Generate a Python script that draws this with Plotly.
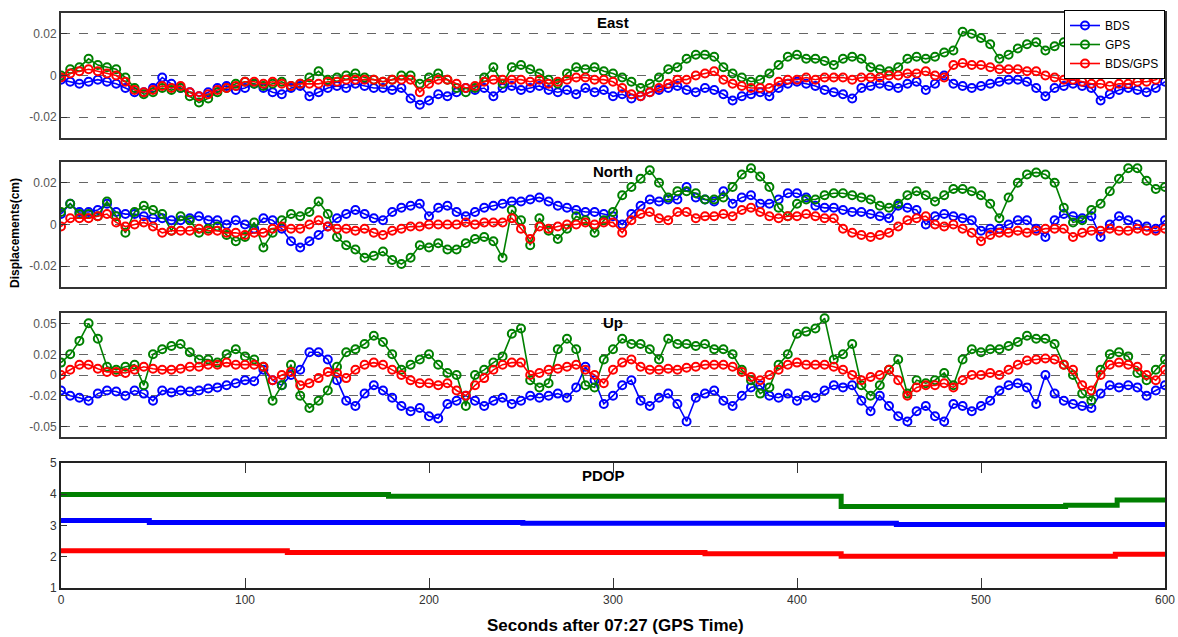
import plotly.graph_objects as go

# ---------------- data ----------------
t = list(range(0, 601, 5))

east_bds = [-0.002,-0.003,-0.004,-0.003,-0.002,-0.003,-0.004,-0.006,-0.008,-0.008,-0.006,-0.001,-0.004,-0.006,-0.008,-0.010,-0.008,-0.006,-0.005,-0.007,
            -0.006,-0.004,-0.006,-0.008,-0.009,-0.006,-0.005,-0.010,-0.008,-0.006,-0.005,-0.006,-0.004,-0.005,-0.006,-0.006,-0.007,-0.006,-0.011,-0.014,
            -0.012,-0.009,-0.010,-0.008,-0.006,-0.007,-0.006,-0.010,-0.006,-0.005,-0.007,-0.006,-0.005,-0.007,-0.008,-0.007,-0.009,-0.006,-0.008,-0.007,
            -0.010,-0.009,-0.011,-0.010,-0.008,-0.007,-0.006,-0.005,-0.007,-0.008,-0.006,-0.007,-0.009,-0.012,-0.010,-0.009,-0.008,-0.010,-0.006,-0.004,
            -0.003,-0.004,-0.005,-0.007,-0.008,-0.009,-0.011,-0.006,-0.005,-0.004,-0.005,-0.006,-0.004,-0.003,-0.007,-0.004,0.000,-0.004,-0.005,-0.006,
            -0.005,-0.004,-0.003,-0.002,-0.002,-0.003,-0.006,-0.010,-0.006,-0.005,-0.004,-0.005,-0.006,-0.012,-0.009,-0.007,-0.006,-0.007,-0.008,-0.006,
            -0.003]
east_gps = [0.000,0.003,0.004,0.008,0.005,0.004,0.003,-0.001,-0.006,-0.009,-0.008,-0.006,-0.007,-0.006,-0.010,-0.013,-0.011,-0.008,-0.006,-0.004,
            -0.003,-0.004,-0.005,-0.004,-0.003,-0.005,-0.004,-0.001,0.002,-0.002,-0.001,0.000,0.001,-0.001,-0.002,-0.003,-0.002,0.000,0.000,-0.004,
            -0.001,0.001,-0.002,-0.006,-0.008,-0.006,-0.001,0.004,-0.004,0.004,0.005,0.003,0.001,-0.002,-0.004,0.001,0.004,0.003,0.004,0.002,
            0.001,-0.001,-0.003,-0.006,-0.004,-0.001,0.003,0.004,0.008,0.010,0.010,0.009,0.004,0.001,-0.001,-0.003,-0.002,0.001,0.005,0.009,
            0.010,0.008,0.008,0.007,0.005,0.008,0.009,0.008,0.004,0.003,0.002,0.004,0.008,0.009,0.008,0.009,0.011,0.012,0.021,0.020,
            0.018,0.015,0.008,0.010,0.013,0.015,0.016,0.012,0.014,0.016,0.015,0.013,0.011,0.010,0.011,0.009,0.010,0.012,0.011,0.013,
            0.012]
east_mix = [-0.001,0.001,0.002,0.003,0.002,0.001,0.000,-0.003,-0.007,-0.008,-0.007,-0.005,-0.006,-0.005,-0.008,-0.010,-0.009,-0.007,-0.006,-0.005,
            -0.003,-0.003,-0.004,-0.003,-0.004,-0.005,-0.004,-0.004,-0.004,-0.003,-0.003,-0.002,-0.002,-0.002,-0.002,-0.003,-0.002,-0.002,-0.002,-0.008,
            -0.004,-0.002,-0.002,-0.004,-0.006,-0.005,-0.003,-0.002,-0.002,-0.002,-0.002,-0.003,-0.002,-0.004,-0.003,-0.002,-0.001,-0.001,-0.002,-0.002,
            -0.003,-0.006,-0.009,-0.010,-0.008,-0.006,-0.004,-0.002,-0.002,0.000,0.001,0.002,-0.002,-0.004,-0.005,-0.006,-0.006,-0.006,-0.003,-0.002,
            -0.002,-0.001,-0.002,-0.001,-0.001,-0.001,-0.002,-0.001,-0.001,-0.001,0.000,0.000,0.001,0.001,0.002,0.000,-0.001,0.005,0.006,0.005,
            0.005,0.004,0.003,0.003,0.003,0.002,0.002,0.000,-0.001,-0.002,-0.002,-0.003,-0.004,-0.004,-0.005,-0.004,-0.004,-0.003,-0.003,-0.002,
            0.001]

north_bds = [0.005,0.010,0.006,0.006,0.007,0.010,0.006,0.005,0.005,0.004,0.003,0.003,0.002,0.002,0.003,0.004,0.002,0.002,0.000,0.002,
             0.000,-0.002,0.003,0.002,-0.002,-0.008,-0.011,-0.008,-0.005,-0.001,0.003,0.005,0.007,0.005,0.003,0.002,0.006,0.008,0.009,0.010,
             0.004,0.008,0.009,0.006,0.004,0.006,0.008,0.009,0.010,0.011,0.011,0.012,0.013,0.011,0.009,0.008,0.007,0.006,0.006,0.005,
             0.004,0.000,0.005,0.009,0.012,0.011,0.012,0.012,0.018,0.013,0.012,0.011,0.016,0.010,0.013,0.014,0.010,0.010,0.012,0.015,
             0.015,0.013,0.009,0.008,0.008,0.007,0.006,0.006,0.005,0.004,0.003,0.009,0.008,0.007,0.000,0.004,0.005,0.004,0.003,0.002,
             -0.003,-0.002,-0.002,0.000,0.002,0.002,-0.002,-0.006,0.002,0.005,0.004,0.003,0.004,-0.006,0.000,0.004,0.002,0.000,-0.001,-0.002,
             0.002]
north_gps = [0.006,0.010,0.005,0.005,0.004,0.011,0.004,-0.004,0.006,0.009,0.007,0.005,-0.003,0.004,0.002,-0.004,-0.002,-0.001,-0.005,-0.008,
             -0.006,0.001,-0.011,-0.004,0.002,0.005,0.004,0.006,0.011,0.005,-0.006,-0.010,-0.012,-0.016,-0.015,-0.013,-0.017,-0.019,-0.016,-0.010,
             -0.011,-0.009,-0.012,-0.012,-0.009,-0.007,-0.006,-0.008,-0.016,0.007,0.002,-0.010,0.003,-0.003,-0.007,-0.002,0.004,0.002,-0.004,0.002,
             0.006,0.014,0.018,0.022,0.026,0.020,0.013,0.016,0.016,0.015,0.012,0.012,0.013,0.018,0.024,0.027,0.023,0.018,0.008,0.004,
             0.010,0.012,0.012,0.014,0.015,0.015,0.014,0.013,0.012,0.009,0.008,0.010,0.014,0.016,0.014,0.011,0.014,0.017,0.017,0.016,
             0.014,0.010,0.003,0.013,0.020,0.024,0.025,0.024,0.020,0.008,0.001,0.002,0.007,0.010,0.016,0.022,0.027,0.027,0.021,0.017,
             0.018]
north_mix = [-0.001,0.003,0.003,0.003,0.004,0.005,0.001,-0.001,0.000,0.001,-0.001,-0.004,-0.003,-0.003,-0.003,-0.002,-0.003,-0.003,-0.004,-0.004,
             -0.005,-0.004,-0.004,-0.002,-0.001,-0.002,-0.002,0.000,0.002,-0.001,-0.002,-0.002,-0.003,-0.002,-0.004,-0.005,-0.003,-0.002,-0.001,-0.001,
             0.000,0.000,0.000,0.000,0.001,0.000,0.001,0.001,0.001,0.003,-0.002,-0.007,-0.001,-0.002,-0.001,0.000,0.000,0.001,0.000,0.001,
             0.001,-0.004,0.002,0.005,0.006,0.003,0.002,0.006,0.006,0.003,0.004,0.004,0.005,0.004,0.007,0.008,0.006,0.004,0.003,0.004,
             0.004,0.005,0.004,0.003,0.003,-0.002,-0.004,-0.005,-0.006,-0.005,-0.004,-0.001,0.002,0.003,0.004,0.000,-0.001,0.000,-0.002,-0.004,
             -0.008,-0.005,-0.004,-0.004,-0.003,-0.004,-0.003,-0.002,-0.002,-0.002,-0.006,-0.004,-0.003,-0.003,-0.002,-0.003,-0.003,-0.002,-0.003,-0.003,
             -0.002]

up_bds = [-0.015,-0.020,-0.022,-0.025,-0.018,-0.015,-0.016,-0.020,-0.015,-0.018,-0.025,-0.015,-0.017,-0.015,-0.016,-0.015,-0.013,-0.012,-0.010,-0.008,
          -0.005,-0.006,0.005,-0.005,-0.010,0.000,0.005,0.022,0.022,0.015,-0.005,-0.025,-0.030,-0.018,-0.010,-0.015,-0.022,-0.030,-0.035,-0.032,
          -0.040,-0.042,-0.028,-0.025,-0.020,-0.025,-0.030,-0.025,-0.022,-0.028,-0.025,-0.020,-0.022,-0.020,-0.018,-0.022,-0.012,0.008,-0.005,-0.028,
          -0.020,-0.010,-0.005,-0.025,-0.030,-0.022,-0.018,-0.028,-0.045,-0.022,-0.018,-0.015,-0.025,-0.030,-0.020,-0.012,-0.010,-0.020,-0.022,-0.018,
          -0.025,-0.020,-0.022,-0.015,-0.010,-0.012,-0.010,-0.025,-0.035,-0.020,-0.030,-0.040,-0.045,-0.035,-0.030,-0.040,-0.045,-0.028,-0.030,-0.035,
          -0.030,-0.025,-0.015,-0.010,-0.008,-0.012,-0.028,0.000,-0.018,-0.025,-0.028,-0.030,-0.032,-0.018,-0.010,-0.012,-0.010,-0.012,-0.020,-0.015,
          -0.010]
up_gps = [0.012,0.020,0.033,0.050,0.035,0.008,0.005,0.008,0.010,-0.010,0.020,0.025,0.028,0.030,0.022,0.015,0.015,0.012,0.020,0.025,
          0.018,0.015,0.008,-0.025,-0.010,0.010,-0.020,-0.032,-0.025,-0.015,0.008,0.022,0.025,0.030,0.038,0.032,0.020,0.005,0.010,0.015,
          0.020,0.010,0.002,0.000,-0.030,0.000,0.005,0.012,0.018,0.040,0.045,-0.005,-0.012,-0.008,0.025,0.035,0.025,-0.010,-0.012,0.015,
          0.025,0.035,0.030,0.030,0.025,0.015,0.035,0.030,0.030,0.028,0.030,0.025,0.025,0.020,0.005,-0.005,-0.018,-0.012,0.010,0.020,
          0.040,0.042,0.045,0.055,0.015,0.020,0.030,-0.010,-0.020,-0.010,0.005,0.015,-0.018,-0.005,-0.008,-0.005,0.002,-0.010,0.015,0.025,
          0.022,0.025,0.025,0.028,0.032,0.038,0.035,0.035,0.030,0.010,0.000,-0.018,-0.025,0.005,0.020,0.022,0.018,0.002,-0.005,0.005,
          0.015]
up_mix = [0.000,0.005,0.010,0.010,0.006,0.003,0.003,0.002,0.005,0.008,0.006,0.005,0.005,0.006,0.008,0.008,0.010,0.010,0.012,0.010,
          0.010,0.010,0.008,-0.005,0.000,0.003,-0.010,-0.008,-0.003,0.003,0.002,-0.003,0.005,0.010,0.012,0.010,0.005,0.000,-0.005,-0.008,
          -0.008,-0.010,-0.008,-0.015,-0.020,-0.010,-0.003,0.005,0.010,0.012,0.012,0.000,0.002,0.005,0.006,0.008,0.010,0.005,0.000,-0.008,
          0.005,0.012,0.015,0.008,0.005,0.005,0.006,0.005,0.007,0.008,0.010,0.010,0.010,0.008,0.003,-0.002,-0.005,0.000,0.005,0.010,
          0.012,0.010,0.010,0.010,0.008,0.005,0.000,-0.005,-0.002,0.000,0.005,-0.005,-0.020,-0.012,-0.010,-0.010,-0.008,-0.012,-0.005,0.000,
          0.000,0.002,0.000,0.005,0.010,0.014,0.015,0.016,0.015,0.010,0.005,-0.010,-0.015,0.000,0.010,0.012,0.010,0.008,0.000,-0.005,
          0.005]

# PDOP step changes (time of change, value from that time on)
pdop_bds_t = [0, 48, 251, 454, 600]
pdop_bds = [3.16, 3.10, 3.07, 3.03, 3.03]
pdop_gps_t = [0, 178, 424, 546, 574, 600]
pdop_gps = [3.99, 3.94, 3.61, 3.65, 3.82, 3.82]
pdop_mix_t = [0, 123, 350, 424, 573, 600]
pdop_mix = [2.19, 2.14, 2.10, 2.02, 2.08, 2.08]

names = ["BDS", "GPS", "BDS/GPS"]
colors = ["#0000FF", "#008000", "#FF0000"]

panels = [
    ("East", [east_bds, east_gps, east_mix], [-0.03, 0.03], [0.02, 0, -0.02], ["0.02", "0", "-0.02"]),
    ("North", [north_bds, north_gps, north_mix], [-0.03, 0.03], [0.02, 0, -0.02], ["0.02", "0", "-0.02"]),
    ("Up", [up_bds, up_gps, up_mix], [-0.06, 0.06], [0.05, 0.02, 0, -0.02, -0.05], ["0.05", "0.02", "0", "-0.02", "-0.05"]),
]

W, H = 1178, 637
X0, X1 = 61, 1165
pix = [(13, 138), (162, 287), (313, 437), (463, 588)]
FONT = "Arial, Liberation Sans, sans-serif"

fig = go.Figure()
layout = dict(width=W, height=H, margin=dict(l=0, r=0, t=0, b=0, autoexpand=False),
              template="none",
              paper_bgcolor="white", plot_bgcolor="white", showlegend=True,
              font=dict(family=FONT, size=12, color="#333333"))
annotations = []

for i, (title, series, yr, tv, tt) in enumerate(panels):
    k = i + 1
    xa = "x" if k == 1 else f"x{k}"
    ya = "y" if k == 1 else f"y{k}"
    for j in range(3):
        fig.add_trace(go.Scatter(
            x=t, y=series[j], xaxis=xa, yaxis=ya, mode="lines+markers",
            name=names[j], showlegend=(k == 1),
            line=dict(color=colors[j], width=1.6),
            marker=dict(symbol="circle-open", size=8, color=colors[j], line=dict(width=2, color=colors[j])),
        ))
    top, bot = pix[i]
    layout["xaxis" if k == 1 else f"xaxis{k}"] = dict(
        domain=[X0 / W, X1 / W], range=[0, 600], anchor=ya, showticklabels=False, automargin=False,
        ticks="", showgrid=False, zeroline=False, showline=True, mirror=True,
        linecolor="#333333", linewidth=2)
    layout["yaxis" if k == 1 else f"yaxis{k}"] = dict(
        domain=[1 - bot / H, 1 - top / H], range=yr, anchor=xa, automargin=False,
        tickvals=tv, ticktext=tt, ticks="inside", ticklen=6, tickcolor="#333333",
        showgrid=True, gridcolor="#666666", griddash="dash", gridwidth=1,
        zeroline=False, showline=True, mirror=True, linecolor="#333333", linewidth=2,
        tickfont=dict(family=FONT, size=12, color="#555555"))
    annotations.append(dict(text=f"<b>{title}</b>", xref="paper", yref="paper",
                            x=(X0 + X1) / 2 / W, y=1 - (top - 1) / H, xanchor="center", yanchor="top",
                            showarrow=False, font=dict(family=FONT, size=15, color="black")))

# PDOP panel
for tt_, vv, c in [(pdop_bds_t, pdop_bds, colors[0]), (pdop_gps_t, pdop_gps, colors[1]), (pdop_mix_t, pdop_mix, colors[2])]:
    fig.add_trace(go.Scatter(x=tt_, y=vv, xaxis="x4", yaxis="y4", mode="lines", line_shape="hv",
                             showlegend=False, line=dict(color=c, width=5)))
top, bot = pix[3]
layout["xaxis4"] = dict(domain=[X0 / W, X1 / W], range=[0, 600], anchor="y4", automargin=False,
                        tickvals=[0, 100, 200, 300, 400, 500, 600], ticks="inside", ticklen=10,
                        tickcolor="#333333", showgrid=False, zeroline=False, showline=True, mirror="ticks",
                        linecolor="#222222", linewidth=2,
                        tickfont=dict(family=FONT, size=12, color="#333333"))
layout["yaxis4"] = dict(domain=[1 - bot / H, 1 - top / H], range=[1, 5], anchor="x4", automargin=False,
                        tickvals=[1, 2, 3, 4, 5], ticks="inside", ticklen=6, tickcolor="#333333",
                        showgrid=False, zeroline=False, showline=True, mirror=True,
                        linecolor="#222222", linewidth=2,
                        tickfont=dict(family=FONT, size=12, color="#333333"))
annotations.append(dict(text="<b>PDOP</b>", xref="paper", yref="paper",
                        x=(X0 + X1) / 2 / W - 0.008, y=1 - (top + 2) / H, xanchor="center", yanchor="top",
                        showarrow=False, font=dict(family=FONT, size=15, color="black")))
annotations.append(dict(text="<b>Displacements(cm)</b>", xref="paper", yref="paper",
                        x=15 / W, y=1 - 233 / H, xanchor="center", yanchor="middle", textangle=-90,
                        showarrow=False, font=dict(family=FONT, size=12, color="black")))
annotations.append(dict(text="<b>Seconds after 07:27 (GPS Time)</b>", xref="paper", yref="paper",
                        x=615 / W, y=1 - 625 / H, xanchor="center", yanchor="middle",
                        showarrow=False, font=dict(family=FONT, size=17, color="black")))
layout["annotations"] = annotations
layout["legend"] = dict(x=X1 / W, y=1 - 10 / H, xanchor="right", yanchor="top",
                        bgcolor="white", bordercolor="black", borderwidth=1,
                        font=dict(family=FONT, size=12, color="black"), tracegroupgap=0)
fig.update_layout(**layout)
fig.write_html("out.html", config={"displayModeBar": False},
               post_script="document.body.style.margin='0px';document.body.style.overflow='hidden';")
